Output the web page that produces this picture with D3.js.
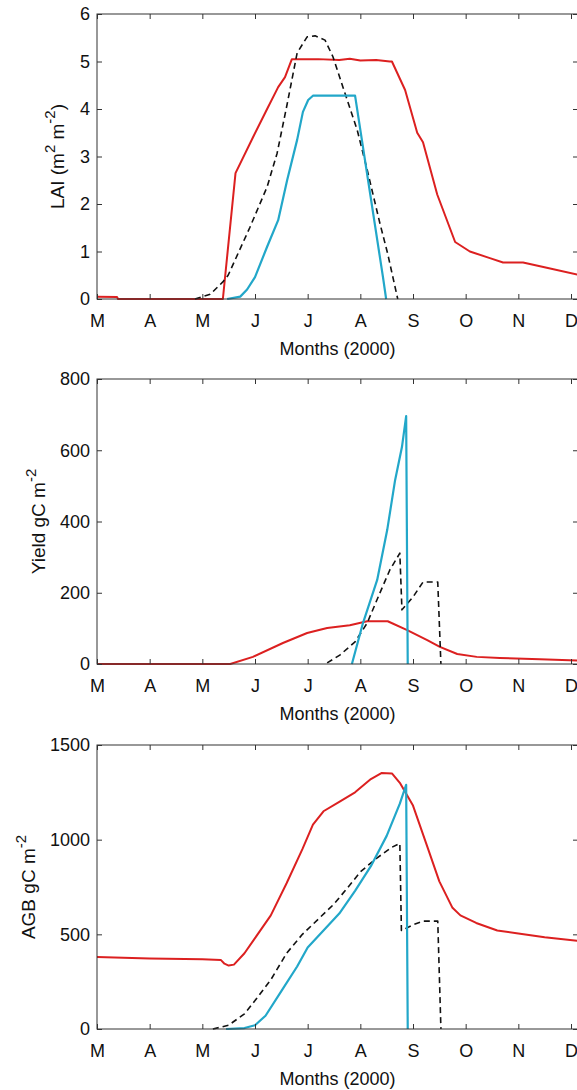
<!DOCTYPE html>
<html>
<head>
<meta charset="utf-8">
<script src="https://cdn.jsdelivr.net/npm/d3@7"></script>
<style>
  body { margin: 0; background: #fff; }
  svg { display: block; font-family: "Liberation Sans", Arial, sans-serif; }
</style>
</head>
<body>
<script>
// month tick labels (Mar .. Dec 2000), x = month number
var monthTicks = [3, 4, 5, 6, 7, 8, 9, 10, 11, 12];
var monthLabels = ["M", "A", "M", "J", "J", "A", "S", "O", "N", "D"];

// LAI (m2 m-2)
var laiRed = [[3.0, 0.05], [3.38, 0.04], [3.4, 0.0], [5.39, 0.0], [5.63, 2.65], [5.96, 3.4], [6.23, 4.0],
  [6.44, 4.46], [6.57, 4.67], [6.70, 5.05], [7.2, 5.05], [7.6, 5.03], [7.8, 5.06], [8.0, 5.02], [8.3, 5.03],
  [8.56, 5.0], [8.60, 5.0], [8.85, 4.4], [9.08, 3.5], [9.19, 3.3], [9.46, 2.2], [9.80, 1.2], [10.08, 1.0],
  [10.46, 0.86], [10.71, 0.77], [11.09, 0.77], [11.54, 0.66], [12.13, 0.51]];
var laiBlack = [[4.86, 0.0], [5.15, 0.1], [5.39, 0.36], [5.49, 0.5], [5.90, 1.5], [6.23, 2.36], [6.42, 3.07],
  [6.61, 4.1], [6.80, 5.18], [6.99, 5.52], [7.14, 5.54], [7.33, 5.45], [7.48, 5.1], [7.67, 4.46], [7.94, 3.56],
  [8.13, 2.72], [8.37, 1.6], [8.52, 0.95], [8.71, 0.0]];
var laiCyan = [[5.47, 0.0], [5.72, 0.05], [5.85, 0.2], [6.0, 0.46], [6.23, 1.1], [6.44, 1.66], [6.61, 2.5],
  [6.80, 3.35], [6.91, 3.94], [7.01, 4.19], [7.10, 4.28], [7.90, 4.28], [8.43, 0.46], [8.49, 0.0]];

// Yield (gC m-2)
var yieldRed = [[3.0, 0], [5.53, 0], [5.96, 20], [6.53, 59], [6.99, 87], [7.37, 101], [7.80, 109], [8.13, 120],
  [8.52, 120], [8.89, 95], [9.27, 67], [9.51, 48], [9.84, 28], [10.21, 20], [10.65, 17], [11.41, 13], [12.13, 10]];
var yieldBlack = [[7.37, 3], [7.61, 25], [7.90, 62], [8.13, 115], [8.37, 199], [8.56, 264], [8.75, 311],
  [8.79, 152], [9.0, 188], [9.19, 230], [9.47, 230], [9.53, 0]];
var yieldCyan = [[7.84, 0], [8.05, 115], [8.32, 236], [8.51, 376], [8.66, 516], [8.79, 609], [8.87, 696], [8.90, 0]];

// AGB (gC m-2)
var agbRed = [[3.0, 380], [4.0, 372], [5.0, 368], [5.35, 365], [5.42, 345], [5.5, 335], [5.6, 340], [5.8, 400],
  [6.0, 480], [6.3, 600], [6.6, 770], [6.9, 950], [7.1, 1080], [7.3, 1150], [7.6, 1200], [7.9, 1250], [8.2, 1320],
  [8.4, 1352], [8.6, 1350], [8.75, 1300], [9.0, 1180], [9.25, 980], [9.5, 780], [9.75, 640], [9.9, 600],
  [10.2, 560], [10.6, 520], [11.0, 505], [11.5, 485], [12.13, 465]];
var agbBlack = [[5.2, 0], [5.5, 20], [5.8, 80], [6.0, 150], [6.3, 260], [6.6, 400], [6.9, 500], [7.2, 580],
  [7.5, 660], [7.8, 760], [8.0, 830], [8.3, 900], [8.6, 960], [8.75, 980], [8.78, 520], [9.0, 550], [9.2, 570],
  [9.47, 570], [9.53, 0]];
var agbCyan = [[5.45, 0], [5.8, 5], [6.0, 20], [6.2, 70], [6.5, 200], [6.8, 330], [7.0, 430], [7.3, 520],
  [7.6, 610], [7.9, 730], [8.2, 860], [8.5, 1020], [8.75, 1190], [8.87, 1290], [8.90, 0]];

var W = 577, H = 1090;
var left = 97, right = 578;

var svg = d3.select("body").append("svg")
  .attr("width", W)
  .attr("height", H);

var x = d3.scaleLinear().domain([3, 12]).range([left, 571]);

var panels = [
  { top: 14, bottom: 299, max: 6, ticks: [0, 1, 2, 3, 4, 5, 6], title: [["LAI (m", 0], ["2", 1], [" m", 0], ["-2", 1], [")", 0]],
    titleX: 64, series: [laiRed, laiBlack, laiCyan] },
  { top: 379, bottom: 664, max: 800, ticks: [0, 200, 400, 600, 800], title: [["Yield gC m", 0], ["-2", 1]],
    titleX: 45, series: [yieldRed, yieldBlack, yieldCyan] },
  { top: 745, bottom: 1029, max: 1500, ticks: [0, 500, 1000, 1500], title: [["AGB gC m", 0], ["-2", 1]],
    titleX: 35, series: [agbRed, agbBlack, agbCyan] }
];

var styles = [
  { color: "#dc2020", width: 2, dash: null },
  { color: "#111", width: 1.6, dash: "6,4" },
  { color: "#22a7c9", width: 2.2, dash: null }
];

panels.forEach(function(p, i) {
  var y = d3.scaleLinear().domain([0, p.max]).range([p.bottom, p.top]);
  var g = svg.append("g");

  g.append("clipPath").attr("id", "clip" + i)
    .append("rect")
    .attr("x", left).attr("y", p.top - 2)
    .attr("width", right - left).attr("height", p.bottom - p.top + 3);

  // lines
  var line = d3.line()
    .x(function(d) { return x(d[0]); })
    .y(function(d) { return y(d[1]); });

  p.series.forEach(function(s, k) {
    g.append("path")
      .datum(s)
      .attr("clip-path", "url(#clip" + i + ")")
      .attr("d", line)
      .attr("fill", "none")
      .attr("stroke", styles[k].color)
      .attr("stroke-width", styles[k].width)
      .attr("stroke-dasharray", styles[k].dash)
      .attr("stroke-linejoin", "round");
  });

  // box
  g.append("rect")
    .attr("x", left).attr("y", p.top)
    .attr("width", right - left).attr("height", p.bottom - p.top)
    .attr("fill", "none").attr("stroke", "#333").attr("stroke-width", 1);

  // axes with inward ticks
  var xb = d3.axisBottom(x).tickValues(monthTicks).tickSize(-5).tickPadding(15)
    .tickFormat(function(d, j) { return monthLabels[j]; });
  var xt = d3.axisTop(x).tickValues(monthTicks).tickSize(-5).tickFormat("");
  var yl = d3.axisLeft(y).tickValues(p.ticks).tickSize(-5).tickPadding(7).tickFormat(d3.format("d"));
  var yr = d3.axisRight(y).tickValues(p.ticks).tickSize(-5).tickFormat("");

  g.append("g").attr("transform", "translate(0," + p.bottom + ")").call(xb);
  g.append("g").attr("transform", "translate(0," + p.top + ")").call(xt);
  g.append("g").attr("transform", "translate(" + left + ",0)").call(yl);
  g.append("g").attr("transform", "translate(" + right + ",0)").call(yr);

  g.selectAll(".domain").remove();
  g.selectAll(".tick line").attr("stroke", "#333");
  g.selectAll(".tick text").attr("font-size", 18).attr("fill", "#111")
    .attr("font-family", "Liberation Sans, Arial, sans-serif");

  // x title
  g.append("text")
    .attr("x", (left + right) / 2)
    .attr("y", p.bottom + 56)
    .attr("text-anchor", "middle")
    .attr("font-size", 18)
    .attr("fill", "#111")
    .text("Months (2000)");

  // y title
  var cy = (p.top + p.bottom) / 2;
  var t = g.append("text")
    .attr("transform", "translate(" + p.titleX + "," + cy + ") rotate(-90)")
    .attr("text-anchor", "middle")
    .attr("font-size", 19)
    .attr("fill", "#111");
  var up = false;
  p.title.forEach(function(part) {
    var sup = part[1] === 1;
    var dy = 0;
    if (sup && !up) { dy = -9; up = true; }
    else if (!sup && up) { dy = 9; up = false; }
    t.append("tspan")
      .attr("dy", dy)
      .attr("font-size", sup ? 15 : 19)
      .text(part[0]);
  });
});
</script>
</body>
</html>
